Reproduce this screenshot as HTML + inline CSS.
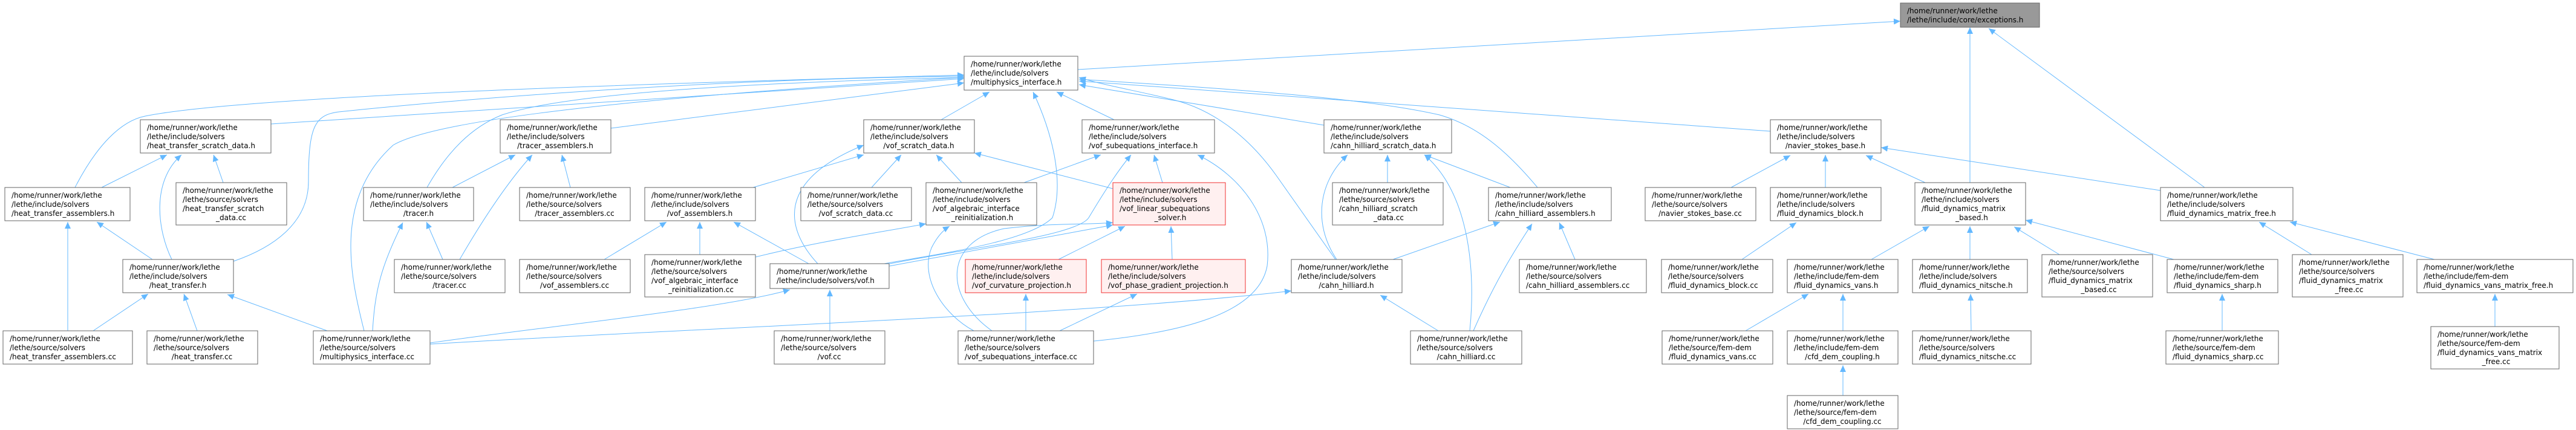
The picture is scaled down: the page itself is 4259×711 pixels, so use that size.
<!DOCTYPE html>
<html><head><meta charset="utf-8"><style>
html,body{margin:0;padding:0;background:#fff;}
svg{display:block;}
text{font-family:"DejaVu Sans","Liberation Sans",sans-serif;font-size:12px;fill:#000;}
.n{fill:#fff;stroke:#666;stroke-width:1;}
.r{fill:#fff0f0;stroke:#f03030;stroke-width:1;}
.g{fill:#999;stroke:#666;stroke-width:1;}
.e{fill:none;stroke:#63b8ff;stroke-width:1;}
.c{text-anchor:middle;}
</style></head><body>
<svg width="4259" height="711" viewBox="0 0 4259 711" xmlns="http://www.w3.org/2000/svg">
<defs><marker id="a" markerUnits="userSpaceOnUse" markerWidth="12" markerHeight="10" refX="11" refY="5" orient="auto"><path d="M0,0 L11,5 L0,10 z" fill="#63b8ff"/></marker></defs>
<g marker-end="url(#a)">
<path class="e" d="M1782,115 L3142,35"/>
<path class="e" d="M3257,302 L3257,45"/>
<path class="e" d="M3645,310 L3288,47"/>
<path class="e" d="M448,205 L1594,130"/>
<path class="e" d="M124,310 C160,240 200,200 240,192 C400,160 1000,140 1594,124"/>
<path class="e" d="M386,432 C450,410 510,370 510,300 C510,210 520,190 560,185 C800,160 1200,130 1594,126"/>
<path class="e" d="M602,547 C580,460 550,330 650,240 C700,210 900,170 1594,128"/>
<path class="e" d="M706,310 C740,250 780,210 830,190 C950,150 1300,135 1594,128"/>
<path class="e" d="M1010,212 L1594,137"/>
<path class="e" d="M1556,198 L1636,152"/>
<path class="e" d="M1462,436 C1550,420 1700,400 1740,360 C1760,300 1740,220 1708,152"/>
<path class="e" d="M1842,198 L1747,152"/>
<path class="e" d="M2189,207 L1784,140"/>
<path class="e" d="M2542,310 C2500,260 2450,210 2380,190 C2250,160 2000,145 1784,131"/>
<path class="e" d="M2208,429 L2110,290 C2060,220 2000,180 1940,165 C1880,150 1820,140 1784,128"/>
<path class="e" d="M2927,217 L1784,134"/>
<path class="e" d="M168,310 L276,256"/>
<path class="e" d="M284,429 C260,380 250,300 300,256"/>
<path class="e" d="M369,302 L353,256"/>
<path class="e" d="M252,429 L160,367"/>
<path class="e" d="M112,547 L112,367"/>
<path class="e" d="M154,547 L245,486"/>
<path class="e" d="M326,547 L304,486"/>
<path class="e" d="M541,547 L376,487"/>
<path class="e" d="M616,547 C620,480 630,440 666,368"/>
<path class="e" d="M711,567 C900,540 1200,510 1306,479"/>
<path class="e" d="M711,569 C1200,540 1800,520 2135,481"/>
<path class="e" d="M748,310 L852,256"/>
<path class="e" d="M732,429 L705,367"/>
<path class="e" d="M760,429 C800,360 840,300 880,256"/>
<path class="e" d="M943,310 L929,256"/>
<path class="e" d="M1245,310 L1428,256"/>
<path class="e" d="M1441,310 L1490,256"/>
<path class="e" d="M1590,302 L1548,256"/>
<path class="e" d="M1840,312 L1611,253"/>
<path class="e" d="M1352,436 C1300,380 1280,300 1428,240"/>
<path class="e" d="M999,429 L1102,367"/>
<path class="e" d="M1157,421 L1157,367"/>
<path class="e" d="M1337,436 L1213,367"/>
<path class="e" d="M1249,425 C1350,400 1450,385 1531,370"/>
<path class="e" d="M1372,547 L1372,479"/>
<path class="e" d="M1693,302 L1820,256"/>
<path class="e" d="M1462,438 C1600,410 1780,390 1800,360 C1830,310 1850,280 1870,256"/>
<path class="e" d="M1922,302 L1908,256"/>
<path class="e" d="M1808,564 C1950,550 2080,520 2095,440 C2105,360 2050,290 1980,256"/>
<path class="e" d="M1470,440 L1840,372"/>
<path class="e" d="M1750,429 L1860,374"/>
<path class="e" d="M1938,429 L1936,374"/>
<path class="e" d="M1696,547 L1696,486"/>
<path class="e" d="M1752,547 L1880,486"/>
<path class="e" d="M1640,547 C1560,490 1560,400 1660,378 C1740,368 1800,372 1840,368"/>
<path class="e" d="M1610,547 C1560,520 1520,460 1540,410 C1550,390 1560,380 1570,374"/>
<path class="e" d="M2497,310 L2355,256"/>
<path class="e" d="M2210,429 C2170,370 2180,300 2228,256"/>
<path class="e" d="M2294,302 L2294,256"/>
<path class="e" d="M2430,547 C2440,450 2430,320 2355,256"/>
<path class="e" d="M2303,429 L2480,367"/>
<path class="e" d="M2436,547 C2470,470 2500,420 2533,370"/>
<path class="e" d="M2604,429 L2578,368"/>
<path class="e" d="M2378,547 L2282,488"/>
<path class="e" d="M2862,310 L2960,257"/>
<path class="e" d="M3018,310 L3018,256"/>
<path class="e" d="M3183,302 L3085,257"/>
<path class="e" d="M3572,315 L3110,244"/>
<path class="e" d="M2880,429 L2970,368"/>
<path class="e" d="M3094,429 L3190,374"/>
<path class="e" d="M3257,429 L3257,374"/>
<path class="e" d="M3405,421 L3330,375"/>
<path class="e" d="M3594,429 L3349,364"/>
<path class="e" d="M2886,547 L2990,486"/>
<path class="e" d="M3047,547 L3047,486"/>
<path class="e" d="M3259,547 L3258,486"/>
<path class="e" d="M3047,654 L3047,604"/>
<path class="e" d="M3822,421 L3735,367"/>
<path class="e" d="M4025,429 L3786,367"/>
<path class="e" d="M4125,540 L4125,486"/>
<path class="e" d="M3674,547 L3674,486"/>
</g>

<!-- nodes -->
<rect class="g" x="3142" y="5" width="230" height="40"/>
<text x="3153" y="22">/home/runner/work/lethe</text><text x="3153" y="37">/lethe/include/core/exceptions.h</text>

<rect class="n" x="1594" y="93" width="188" height="56"/>
<text x="1605" y="110">/home/runner/work/lethe</text><text x="1605" y="125">/lethe/include/solvers</text><text x="1605" y="140">/multiphysics_interface.h</text>

<rect class="n" x="232" y="198" width="216" height="55"/>
<text x="243" y="215">/home/runner/work/lethe</text><text x="243" y="230">/lethe/include/solvers</text><text x="243" y="245">/heat_transfer_scratch_data.h</text>

<rect class="n" x="8" y="310" width="207" height="55"/>
<text x="19" y="327">/home/runner/work/lethe</text><text x="19" y="342">/lethe/include/solvers</text><text x="19" y="357">/heat_transfer_assemblers.h</text>

<rect class="n" x="291" y="302" width="183" height="70"/>
<text x="302" y="319">/home/runner/work/lethe</text><text x="302" y="334">/lethe/source/solvers</text><text x="302" y="349">/heat_transfer_scratch</text><text class="c" x="382" y="364">_data.cc</text>

<rect class="n" x="203" y="429" width="183" height="55"/>
<text x="214" y="446">/home/runner/work/lethe</text><text x="214" y="461">/lethe/include/solvers</text><text class="c" x="294" y="476">/heat_transfer.h</text>

<rect class="n" x="5" y="547" width="214" height="55"/>
<text x="16" y="564">/home/runner/work/lethe</text><text x="16" y="579">/lethe/source/solvers</text><text x="16" y="594">/heat_transfer_assemblers.cc</text>

<rect class="n" x="243" y="547" width="183" height="55"/>
<text x="254" y="564">/home/runner/work/lethe</text><text x="254" y="579">/lethe/source/solvers</text><text class="c" x="334" y="594">/heat_transfer.cc</text>

<rect class="n" x="518" y="547" width="193" height="55"/>
<text x="529" y="564">/home/runner/work/lethe</text><text x="529" y="579">/lethe/source/solvers</text><text x="529" y="594">/multiphysics_interface.cc</text>

<rect class="n" x="601" y="310" width="182" height="55"/>
<text x="612" y="327">/home/runner/work/lethe</text><text x="612" y="342">/lethe/include/solvers</text><text class="c" x="692" y="357">/tracer.h</text>

<rect class="n" x="652" y="429" width="183" height="55"/>
<text x="663" y="446">/home/runner/work/lethe</text><text x="663" y="461">/lethe/source/solvers</text><text class="c" x="743" y="476">/tracer.cc</text>

<rect class="n" x="827" y="198" width="183" height="55"/>
<text x="838" y="215">/home/runner/work/lethe</text><text x="838" y="230">/lethe/include/solvers</text><text class="c" x="918" y="245">/tracer_assemblers.h</text>

<rect class="n" x="859" y="310" width="183" height="55"/>
<text x="870" y="327">/home/runner/work/lethe</text><text x="870" y="342">/lethe/source/solvers</text><text class="c" x="950" y="357">/tracer_assemblers.cc</text>

<rect class="n" x="1066" y="310" width="183" height="55"/>
<text x="1077" y="327">/home/runner/work/lethe</text><text x="1077" y="342">/lethe/include/solvers</text><text class="c" x="1157" y="357">/vof_assemblers.h</text>

<rect class="n" x="859" y="429" width="183" height="55"/>
<text x="870" y="446">/home/runner/work/lethe</text><text x="870" y="461">/lethe/source/solvers</text><text class="c" x="950" y="476">/vof_assemblers.cc</text>

<rect class="n" x="1066" y="421" width="183" height="70"/>
<text x="1077" y="438">/home/runner/work/lethe</text><text x="1077" y="453">/lethe/source/solvers</text><text x="1077" y="468">/vof_algebraic_interface</text><text class="c" x="1159" y="483">_reinitialization.cc</text>

<rect class="n" x="1273" y="436" width="197" height="41"/>
<text x="1284" y="453">/home/runner/work/lethe</text><text x="1284" y="468">/lethe/include/solvers/vof.h</text>

<rect class="n" x="1280" y="547" width="183" height="55"/>
<text x="1291" y="564">/home/runner/work/lethe</text><text x="1291" y="579">/lethe/source/solvers</text><text class="c" x="1371" y="594">/vof.cc</text>

<rect class="n" x="1324" y="310" width="183" height="55"/>
<text x="1335" y="327">/home/runner/work/lethe</text><text x="1335" y="342">/lethe/source/solvers</text><text class="c" x="1415" y="357">/vof_scratch_data.cc</text>

<rect class="n" x="1428" y="198" width="183" height="55"/>
<text x="1439" y="215">/home/runner/work/lethe</text><text x="1439" y="230">/lethe/include/solvers</text><text class="c" x="1519" y="245">/vof_scratch_data.h</text>

<rect class="n" x="1789" y="198" width="219" height="55"/>
<text x="1800" y="215">/home/runner/work/lethe</text><text x="1800" y="230">/lethe/include/solvers</text><text x="1800" y="245">/vof_subequations_interface.h</text>

<rect class="n" x="1531" y="302" width="183" height="70"/>
<text x="1542" y="319">/home/runner/work/lethe</text><text x="1542" y="334">/lethe/include/solvers</text><text x="1542" y="349">/vof_algebraic_interface</text><text class="c" x="1624" y="364">_reinitialization.h</text>

<rect class="r" x="1840" y="302" width="186" height="70"/>
<text x="1851" y="319">/home/runner/work/lethe</text><text x="1851" y="334">/lethe/include/solvers</text><text x="1851" y="349">/vof_linear_subequations</text><text class="c" x="1935" y="364">_solver.h</text>

<rect class="r" x="1596" y="429" width="200" height="55"/>
<text x="1607" y="446">/home/runner/work/lethe</text><text x="1607" y="461">/lethe/include/solvers</text><text x="1607" y="476">/vof_curvature_projection.h</text>

<rect class="r" x="1821" y="429" width="238" height="55"/>
<text x="1832" y="446">/home/runner/work/lethe</text><text x="1832" y="461">/lethe/include/solvers</text><text x="1832" y="476">/vof_phase_gradient_projection.h</text>

<rect class="n" x="1584" y="547" width="224" height="55"/>
<text x="1595" y="564">/home/runner/work/lethe</text><text x="1595" y="579">/lethe/source/solvers</text><text x="1595" y="594">/vof_subequations_interface.cc</text>

<rect class="n" x="2189" y="198" width="211" height="55"/>
<text x="2200" y="215">/home/runner/work/lethe</text><text x="2200" y="230">/lethe/include/solvers</text><text x="2200" y="245">/cahn_hilliard_scratch_data.h</text>

<rect class="n" x="2203" y="302" width="183" height="70"/>
<text x="2214" y="319">/home/runner/work/lethe</text><text x="2214" y="334">/lethe/source/solvers</text><text x="2214" y="349">/cahn_hilliard_scratch</text><text class="c" x="2296" y="364">_data.cc</text>

<rect class="n" x="2461" y="310" width="203" height="55"/>
<text x="2472" y="327">/home/runner/work/lethe</text><text x="2472" y="342">/lethe/include/solvers</text><text x="2472" y="357">/cahn_hilliard_assemblers.h</text>

<rect class="n" x="2135" y="429" width="183" height="55"/>
<text x="2146" y="446">/home/runner/work/lethe</text><text x="2146" y="461">/lethe/include/solvers</text><text class="c" x="2226" y="476">/cahn_hilliard.h</text>

<rect class="n" x="2512" y="429" width="210" height="55"/>
<text x="2523" y="446">/home/runner/work/lethe</text><text x="2523" y="461">/lethe/source/solvers</text><text x="2523" y="476">/cahn_hilliard_assemblers.cc</text>

<rect class="n" x="2332" y="547" width="184" height="55"/>
<text x="2343" y="564">/home/runner/work/lethe</text><text x="2343" y="579">/lethe/source/solvers</text><text class="c" x="2424" y="594">/cahn_hilliard.cc</text>

<rect class="n" x="2720" y="310" width="183" height="55"/>
<text x="2731" y="327">/home/runner/work/lethe</text><text x="2731" y="342">/lethe/source/solvers</text><text class="c" x="2811" y="357">/navier_stokes_base.cc</text>

<rect class="n" x="2747" y="429" width="184" height="55"/>
<text x="2758" y="446">/home/runner/work/lethe</text><text x="2758" y="461">/lethe/source/solvers</text><text x="2758" y="476">/fluid_dynamics_block.cc</text>

<rect class="n" x="2748" y="547" width="183" height="55"/>
<text x="2759" y="564">/home/runner/work/lethe</text><text x="2759" y="579">/lethe/source/fem-dem</text><text x="2759" y="594">/fluid_dynamics_vans.cc</text>

<rect class="n" x="2927" y="198" width="183" height="55"/>
<text x="2938" y="215">/home/runner/work/lethe</text><text x="2938" y="230">/lethe/include/solvers</text><text class="c" x="3018" y="245">/navier_stokes_base.h</text>

<rect class="n" x="2927" y="310" width="183" height="55"/>
<text x="2938" y="327">/home/runner/work/lethe</text><text x="2938" y="342">/lethe/include/solvers</text><text x="2938" y="357">/fluid_dynamics_block.h</text>

<rect class="n" x="3166" y="302" width="183" height="70"/>
<text x="3177" y="319">/home/runner/work/lethe</text><text x="3177" y="334">/lethe/include/solvers</text><text x="3177" y="349">/fluid_dynamics_matrix</text><text class="c" x="3260" y="364">_based.h</text>

<rect class="n" x="2955" y="429" width="183" height="55"/>
<text x="2966" y="446">/home/runner/work/lethe</text><text x="2966" y="461">/lethe/include/fem-dem</text><text x="2966" y="476">/fluid_dynamics_vans.h</text>

<rect class="n" x="3162" y="429" width="190" height="55"/>
<text x="3173" y="446">/home/runner/work/lethe</text><text x="3173" y="461">/lethe/include/solvers</text><text x="3173" y="476">/fluid_dynamics_nitsche.h</text>

<rect class="n" x="3376" y="421" width="183" height="70"/>
<text x="3387" y="438">/home/runner/work/lethe</text><text x="3387" y="453">/lethe/source/solvers</text><text x="3387" y="468">/fluid_dynamics_matrix</text><text class="c" x="3470" y="483">_based.cc</text>

<rect class="n" x="2955" y="547" width="183" height="55"/>
<text x="2966" y="564">/home/runner/work/lethe</text><text x="2966" y="579">/lethe/include/fem-dem</text><text class="c" x="3046" y="594">/cfd_dem_coupling.h</text>

<rect class="n" x="3162" y="547" width="196" height="55"/>
<text x="3173" y="564">/home/runner/work/lethe</text><text x="3173" y="579">/lethe/source/solvers</text><text x="3173" y="594">/fluid_dynamics_nitsche.cc</text>

<rect class="n" x="2955" y="654" width="183" height="55"/>
<text x="2966" y="671">/home/runner/work/lethe</text><text x="2966" y="686">/lethe/source/fem-dem</text><text class="c" x="3046" y="701">/cfd_dem_coupling.cc</text>

<rect class="n" x="3572" y="310" width="219" height="55"/>
<text x="3583" y="327">/home/runner/work/lethe</text><text x="3583" y="342">/lethe/include/solvers</text><text x="3583" y="357">/fluid_dynamics_matrix_free.h</text>

<rect class="n" x="3583" y="429" width="183" height="55"/>
<text x="3594" y="446">/home/runner/work/lethe</text><text x="3594" y="461">/lethe/include/fem-dem</text><text x="3594" y="476">/fluid_dynamics_sharp.h</text>

<rect class="n" x="3790" y="421" width="183" height="70"/>
<text x="3801" y="438">/home/runner/work/lethe</text><text x="3801" y="453">/lethe/source/solvers</text><text x="3801" y="468">/fluid_dynamics_matrix</text><text class="c" x="3884" y="483">_free.cc</text>

<rect class="n" x="3996" y="429" width="258" height="55"/>
<text x="4007" y="446">/home/runner/work/lethe</text><text x="4007" y="461">/lethe/include/fem-dem</text><text x="4007" y="476">/fluid_dynamics_vans_matrix_free.h</text>

<rect class="n" x="3581" y="547" width="186" height="55"/>
<text x="3592" y="564">/home/runner/work/lethe</text><text x="3592" y="579">/lethe/source/fem-dem</text><text x="3592" y="594">/fluid_dynamics_sharp.cc</text>

<rect class="n" x="4019" y="540" width="212" height="70"/>
<text x="4030" y="557">/home/runner/work/lethe</text><text x="4030" y="572">/lethe/source/fem-dem</text><text x="4030" y="587">/fluid_dynamics_vans_matrix</text><text class="c" x="4127" y="602">_free.cc</text>
</svg>
</body></html>
